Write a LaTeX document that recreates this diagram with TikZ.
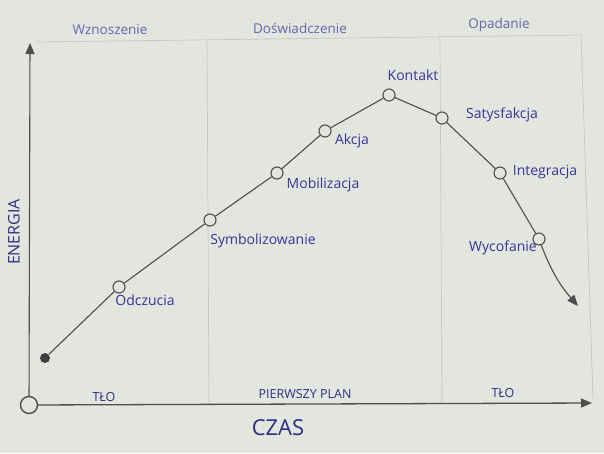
\documentclass[tikz,border=0pt]{standalone}
\usepackage{fontspec}
\setmainfont{Open Sans}
\usetikzlibrary{arrows.meta}

\definecolor{papier}{HTML}{E3E5DF}
\definecolor{olowek}{HTML}{4E4E4E}
\definecolor{atrament}{HTML}{34369A}
\definecolor{blady}{HTML}{6466AC}
\definecolor{kreska}{HTML}{C4C6C1}

\begin{document}
\begin{tikzpicture}[x=1pt,y=-1pt,>={Triangle[length=11pt,width=9pt]},
                    line width=1.1pt,draw=olowek,
                    punkt/.style={circle,draw=olowek,fill=papier,minimum size=12pt,inner sep=0pt},
                    etykieta/.style={text=atrament,font=\fontsize{14}{16}\selectfont,inner sep=0pt},
                    faza/.style={text=blady,font=\fontsize{13.5}{16}\selectfont,inner sep=0pt},
                    plan/.style={text=atrament!85!black,font=\fontsize{12.5}{15}\selectfont,inner sep=0pt}]
  \fill[papier] (0,0) rectangle (604,453);
  \useasboundingbox (0,0) rectangle (604,453);

  % ramka i podzial na fazy
  \coordinate (lg) at (37,42);
  \coordinate (pg) at (581,35);
  \coordinate (pd) at (593,398);
  \coordinate (d1g) at (207,40);
  \coordinate (d1d) at (209,404);
  \coordinate (d2g) at (440,37);
  \coordinate (d2d) at (442,403);
  \draw[kreska,line width=0.7pt] (lg) -- (pg) -- (pd);
  \draw[kreska,line width=0.7pt] (d1g) -- (d1d);
  \draw[kreska,line width=0.7pt] (d2g) -- (d2d);

  \node[faza] (wzn) at (110,30) {Wznoszenie};
  \node[faza] (dos) at (300,28) {Doświadczenie};
  \node[faza] (opa) at (499,25) {Opadanie};

  % osie
  \node[punkt,minimum size=17pt,line width=1.4pt] (zero) at (29,405) {};
  \coordinate (ygora) at (30,43);
  \coordinate (xkoniec) at (592,403);
  \draw[->,olowek] (zero) -- (ygora);
  \draw[->,olowek,line width=1.3pt] (zero) -- (xkoniec);

  \node[plan,rotate=90,font=\fontsize{16}{18}\selectfont] (energia) at (14,232) {ENERGIA};
  \node[plan,font=\fontsize{22}{24}\selectfont] (czas) at (278,428) {CZAS};
  \node[plan] (tlo1) at (104,397) {TŁO};
  \node[plan] (pierwszy) at (305,394) {PIERWSZY PLAN};
  \node[plan] (tlo2) at (503,393) {TŁO};

  % krzywa
  \node[circle,fill=olowek!80!black,minimum size=10pt,inner sep=0pt] (start) at (45,358) {};
  \node[punkt] (odcz) at (119,287) {};
  \node[punkt] (symb) at (210,220) {};
  \node[punkt] (mobi) at (277,173) {};
  \node[punkt] (akcj) at (325,131) {};
  \node[punkt] (kont) at (389,95) {};
  \node[punkt] (saty) at (442,118) {};
  \node[punkt] (inte) at (500,173) {};
  \node[punkt] (wyco) at (539,239) {};
  \coordinate (koniec) at (578,306);

  \draw[olowek] (start) -- (odcz) -- (symb) -- (mobi) -- (akcj) -- (kont) -- (saty) -- (inte) -- (wyco);
  \draw[->,olowek] (wyco) to[bend right=10] (koniec);

  \node[etykieta] (lodcz) at (145,300) {Odczucia};
  \node[etykieta] (lsymb) at (263,241) {Symbolizowanie};
  \node[etykieta] (lmobi) at (323,185) {Mobilizacja};
  \node[etykieta] (lakcj) at (352,141) {Akcja};
  \node[etykieta] (lkont) at (413,75) {Kontakt};
  \node[etykieta] (lsaty) at (502,115) {Satysfakcja};
  \node[etykieta] (linte) at (545,172) {Integracja};
  \node[etykieta] (lwyco) at (503,248) {Wycofanie};
\end{tikzpicture}
\end{document}
